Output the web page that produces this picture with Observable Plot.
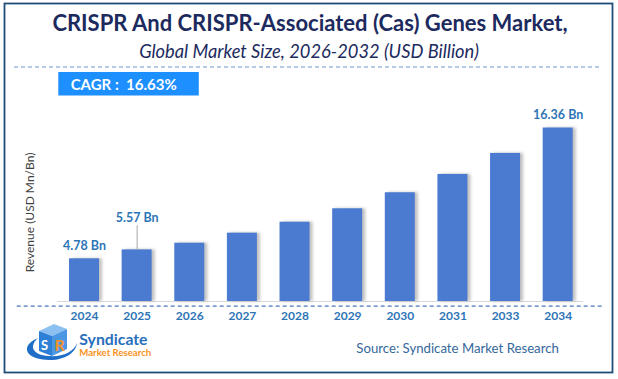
<!DOCTYPE html>
<html>
<head>
<meta charset="utf-8">
<script src="https://cdn.jsdelivr.net/npm/d3@7"></script>
<script src="https://cdn.jsdelivr.net/npm/@observablehq/plot@0.6"></script>
<style>
  body { margin: 0; background: #fff; }
  #wrap { position: relative; width: 618px; height: 379px; overflow: hidden; font-family: Lato, "Open Sans", sans-serif; background: #fff; }
  #chart { position: absolute; left: 0; top: 100px; }
  #deco { position: absolute; left: 0; top: 0; pointer-events: none; }
</style>
</head>
<body>
<div id="wrap">
  <div id="chart"></div>
  <svg id="deco" width="618" height="379" xmlns="http://www.w3.org/2000/svg" font-family="Lato, 'Open Sans', sans-serif">
    <rect x="4.5" y="3.5" width="608" height="369" fill="none" stroke="#1f4e79" stroke-width="1.8"/>
    <text id="title" x="310" y="31" text-anchor="middle" font-size="22" font-weight="bold" fill="#1c2a5e">CRISPR And CRISPR-Associated (Cas) Genes Market,</text>
    <text id="subtitle" x="309" y="58" text-anchor="middle" font-size="18.3" font-style="italic" fill="#1c2a5e">Global Market Size, 2026-2032 (USD Billion)</text>
    <line x1="14" x2="600" y1="67" y2="67" stroke="#6f93d0" stroke-width="1.2" stroke-dasharray="4,3"/>
    <rect x="58.3" y="72" width="140.5" height="23.5" fill="#1e8fff"/>
    <text id="cagr" x="70.7" y="90" font-size="15" font-weight="bold" fill="#ffffff" xml:space="preserve">CAGR :  16.63%</text>
    <!-- logo -->
    <g>
      <path d="M38,338 C20,345 24,360 50,360 C66,360 76,352 77,343 C74,352 62,357 49,356 C32,355 29,346 38,338 Z" fill="#1f6fc8"/>
      <path d="M39,331 L54,324 L67,329 L52,336 Z" fill="#8cc0f0"/>
      <path d="M39,331 L52,336 L52,356 L39,351 Z" fill="#2e7fd6"/>
      <path d="M52,336 L67,329 L67,349 L52,356 Z" fill="#4b97e4"/>
      <text x="41" y="350" font-size="13" font-weight="bold" fill="#ffffff">S</text>
      <text x="54.5" y="351" font-size="16" font-weight="bold" fill="#f7931e">R</text>
    </g>
    <text id="syn" x="79.3" y="344.7" font-size="15.8" font-weight="bold" fill="#2a6ebb">Syndicate</text>
    <text id="mr" x="79.3" y="355.5" font-size="9.6" font-weight="bold" fill="#f7931e">Market Research</text>
    <text id="source" x="356.3" y="353.3" font-size="13.2" fill="#35689b">Source: Syndicate Market Research</text>
  </svg>
</div>
<script>
// ---- data ----
const years = ["2024", "2025", "2026", "2027", "2028", "2029", "2030", "2031", "2033", "2034"];
const revenue = [4.78, 5.57, 6.16, 7.05, 8.02, 9.21, 10.63, 12.25, 14.11, 16.36];
const labeledYears = ["2024", "2025", "2034"];
const labelTexts = ["4.78 Bn", "5.57 Bn", "16.36 Bn"];
const yAxisLabel = "Revenue (USD Mn/Bn)";
const yDomain = [1, 18];

const data = years.map((year, i) => ({year, value: revenue[i]}));
const labels = labeledYears.map((year, i) => ({year, value: revenue[years.indexOf(year)], text: labelTexts[i]}));
const leaderYear = "2025";
const plainLabels = labels.filter(d => d.year !== leaderYear);
const leaderLabels = labels.filter(d => d.year === leaderYear);
const yBase = yDomain[0];

const labelColor = "#2e75b6";

const plot = Plot.plot({
  width: 618,
  height: 230,
  marginLeft: 69,
  marginRight: 45.3,
  marginTop: 9,
  marginBottom: 29,
  style: {fontFamily: "Lato, 'Open Sans', sans-serif", background: "transparent", overflow: "visible"},
  x: {domain: years, paddingInner: 0.43, paddingOuter: 0, round: false, axis: null},
  y: {domain: yDomain, axis: null},
  marks: [
    Plot.ruleY([yBase], {stroke: "#d9d9d9", strokeWidth: 1.2, insetLeft: -12, insetRight: -10.3}),
    Plot.ruleY([yBase], {stroke: "#4a78c2", strokeWidth: 1.2, strokeDasharray: "4,3", dy: 4.7, insetLeft: -52.3, insetRight: -29.3}),
    Plot.barY(data, {x: "year", y1: yBase, y2: "value", fill: "#8c8c8c", fillOpacity: 0.55, dx: 3, className: "shadowbars"}),
    Plot.barY(data, {x: "year", y1: yBase, y2: "value", fill: "#4a7bd1"}),
    Plot.ruleX(leaderLabels, {x: "year", y1: "value", y2: "value", insetTop: 0.5, insetBottom: 24, stroke: "#a6a6a6", strokeWidth: 1}),
    Plot.text(plainLabels, {x: "year", y: "value", text: "text", dy: -13, fill: labelColor, fontWeight: "bold", fontSize: 12.5}),
    Plot.text(leaderLabels, {x: "year", y: "value", text: "text", dy: -32, fill: labelColor, fontWeight: "bold", fontSize: 12.5}),
    Plot.axisX({tickSize: 0, tickPadding: 10, fontSize: 12, fontWeight: "bold", fill: labelColor, label: null}),
    Plot.text([yAxisLabel], {frameAnchor: "left", textAnchor: "middle", lineAnchor: "middle", dx: -39, dy: 7, rotate: -90, fill: "#404040", fontSize: 12})
  ]
});
document.getElementById("chart").appendChild(plot);

// soft blur for the bar shadows
const svg = d3.select(plot);
const defs = svg.insert("defs", ":first-child");
defs.append("filter").attr("id", "shblur").attr("x", "-20%").attr("y", "-20%").attr("width", "140%").attr("height", "140%")
  .append("feGaussianBlur").attr("stdDeviation", 1.5);
svg.selectAll(".shadowbars").attr("filter", "url(#shblur)");
</script>
</body>
</html>
